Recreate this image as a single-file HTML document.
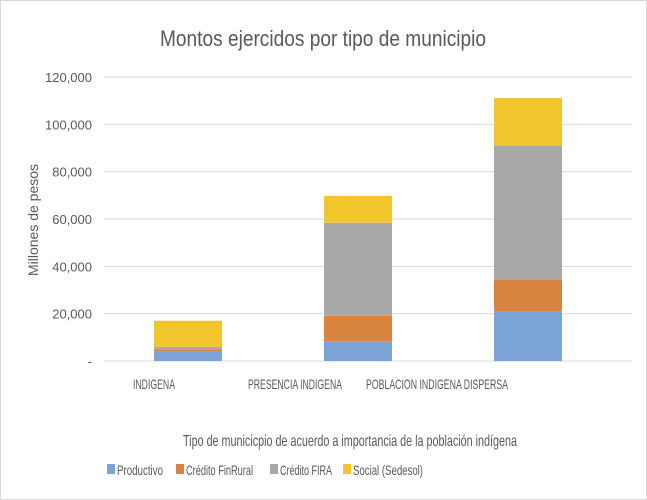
<!DOCTYPE html>
<html><head><meta charset="utf-8"><style>
html,body{margin:0;padding:0;background:#fff}
svg{display:block;font-family:"Liberation Sans",sans-serif}
</style></head><body>
<svg id="chart" width="647" height="500">
<rect x="0.5" y="0.5" width="646" height="499" fill="#fff" stroke="#d9d9d9"/>
<text x="160" y="46" font-size="22" fill="#595959" textLength="326" lengthAdjust="spacingAndGlyphs">Montos ejercidos por tipo de municipio</text>
<text transform="translate(38,220) rotate(-90)" font-size="14" fill="#595959" text-anchor="middle">Millones de pesos</text>
<text x="183" y="446" font-size="16" fill="#595959" textLength="334" lengthAdjust="spacingAndGlyphs">Tipo de municicpio de acuerdo a importancia de la población indígena</text>
<g id="grid"></g><g id="bars"></g><g id="labels"></g><g id="legend"></g>
</svg>
<script>
const categories=["INDIGENA","PRESENCIA INDIGENA","POBLACION INDIGENA DISPERSA"];
const seriesNames=["Productivo","Crédito FinRural","Crédito FIRA","Social (Sedesol)"];
const productivo=[4.2,8.4,21.1];
const finrural=[0.7,10.7,13.3];
const fira=[1.1,39.3,56.7];
const social=[11.0,11.3,20.0];
const yTicks=[0,20,40,60,80,100,120];
const yTickLabels=["-","20,000","40,000","60,000","80,000","100,000","120,000"];
const colors=["#7ca3d6","#d9853f","#a9a9a9","#f1c52c"];
const NS="http://www.w3.org/2000/svg";
const x0=104,x1=632,yBase=361,yTop=77,yMax=120;
const y=v=>yBase-(v/yMax)*(yBase-yTop);
const bandW=170;
const xc=i=>103+bandW*(i+0.5);
const barW=68;
function mk(tag,attrs,parent,text){const e=document.createElementNS(NS,tag);for(const k in attrs)e.setAttribute(k,attrs[k]);if(text!==undefined)e.textContent=text;parent.appendChild(e);return e;}
const grid=document.getElementById('grid'),bars=document.getElementById('bars'),labels=document.getElementById('labels'),legend=document.getElementById('legend');
yTicks.forEach((t,i)=>{
  const l=mk('line',{x1:x0,x2:x1,y1:y(t),y2:y(t),stroke:'#d9d9d9','stroke-width':1},grid);
  
  
  const tx=mk('text',{x:92,y:y(t)+5,'font-size':13,fill:'#595959','text-anchor':'end'},labels,yTickLabels[i]);
  
  
});
const series=[productivo,finrural,fira,social];
categories.forEach((c,i)=>{
  let acc=0;
  series.forEach((s,k)=>{
    const r=mk('rect',{x:xc(i)-barW/2,y:y(acc+s[i]),width:barW,height:y(acc)-y(acc+s[i]),fill:colors[k]},bars);
    
    
    acc+=s[i];
  });
});
const catLabelX=[133,248,366];
const catLabelW=[42,94,142];
categories.forEach((c,i)=>{
  const t=mk('text',{x:catLabelX[i],y:389,'font-size':14,fill:'#595959',textLength:catLabelW[i],lengthAdjust:'spacingAndGlyphs'},labels,c);
  
  
});
const legX=[107,176,270,343];
const legW=[46,67,52,70];
seriesNames.forEach((n,k)=>{
  const g=mk('g',{},legend);
  
  
  mk('rect',{x:legX[k],y:464,width:8,height:10,fill:colors[k]},g);
  mk('text',{x:legX[k]+10,y:475,'font-size':14,fill:'#595959',textLength:legW[k],lengthAdjust:'spacingAndGlyphs'},g,n);
});
</script>
</body></html>
